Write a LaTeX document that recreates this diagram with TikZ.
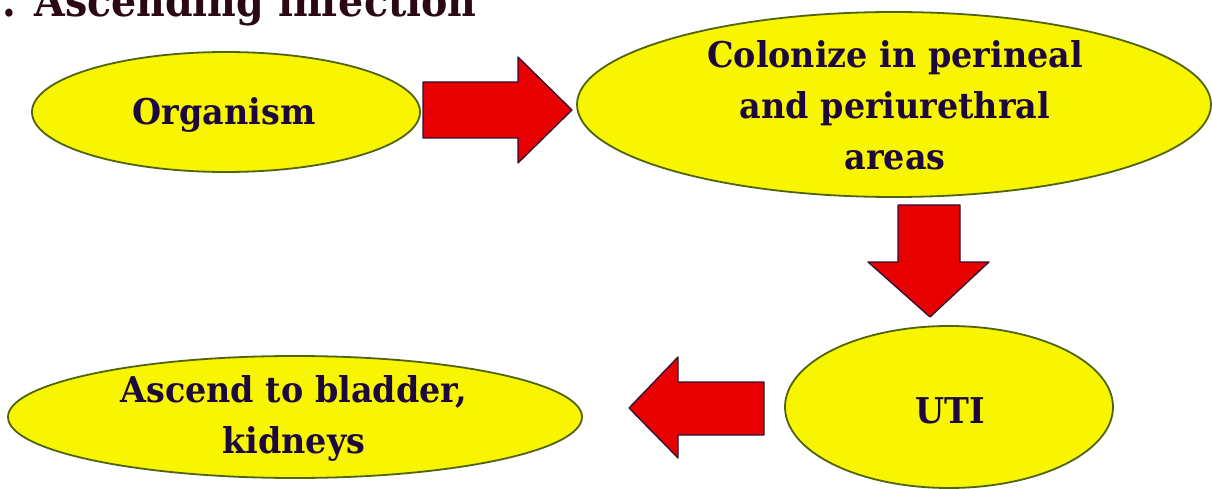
\documentclass[tikz,border=0pt]{standalone}
\usepackage{fontspec}
\usetikzlibrary{shapes.geometric}
\newfontfamily\dvb{DejaVu Serif}[FakeStretch=0.94]
\newfontfamily\dvt{DejaVu Serif}[FakeStretch=0.92]
\definecolor{bubblefill}{RGB}{247,245,0}
\definecolor{bubbleline}{RGB}{80,100,15}
\definecolor{arrred}{RGB}{230,0,0}
\definecolor{arrline}{RGB}{45,15,55}
\definecolor{txtblue}{RGB}{28,8,60}
\definecolor{titlecol}{RGB}{42,8,20}
\tikzset{
  bubble/.style={ellipse, draw=bubbleline, line width=1.8pt, fill=bubblefill, inner sep=0pt},
  bubbletext/.style={text=txtblue, align=center, font=\dvb\bfseries\fontsize{35.5}{51}\selectfont, inner sep=0pt},
  blockarr/.style={fill=arrred, draw=arrline, line width=1.3pt, line join=round},
}
\begin{document}
\begin{tikzpicture}[x=1pt,y=-1pt]
\useasboundingbox (0,0) rectangle (1212,489);
\fill[white] (0,0) rectangle (1212,489);
% title
\node[anchor=base west, inner sep=0pt, text=titlecol, font=\dvt\bfseries\fontsize{43}{43}\selectfont] (title) at (2,17) {. Ascending infection};
% bubbles
\node[bubble, minimum width=388pt, minimum height=120pt] (org) at (226,112) {};
\node[bubbletext] (orgT) at (224,115) {Organism};
\node[bubble, minimum width=634pt, minimum height=185pt] (col) at (894,104.5) {};
\node[bubbletext] (colT) at (895,105) {Colonize in perineal\\and periurethral\\areas};
\node[bubble, minimum width=328pt, minimum height=162pt] (uti) at (949,407) {};
\node[bubbletext] (utiT) at (950,411) {UTI};
\node[bubble, minimum width=574pt, minimum height=122pt] (asc) at (295,417) {};
\node[bubbletext] (ascT) at (294,418) {Ascend to bladder,\\kidneys};
% block arrows
\draw[blockarr] (423,82) -- (518,82) -- (518,57) -- (572,110) -- (518,163) -- (518,138) -- (423,138) -- cycle;
\draw[blockarr] (898,205) -- (960,205) -- (960,262) -- (989,262) -- (930,317) -- (868,262) -- (898,262) -- cycle;
\draw[blockarr] (764,382) -- (678,382) -- (678,357) -- (629,408) -- (678,458) -- (678,435) -- (764,435) -- cycle;
\end{tikzpicture}
\end{document}
